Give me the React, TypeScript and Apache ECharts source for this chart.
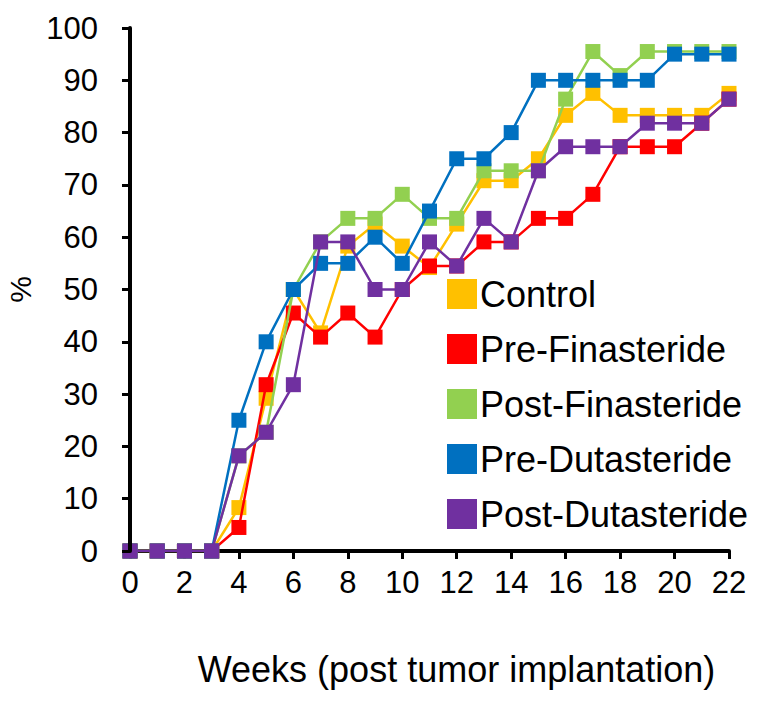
import React, { useEffect, useRef } from "react";
import * as echarts from "echarts";

const weeks = [0,1,2,3,4,5,6,7,8,9,10,11,12,13,14,15,16,17,18,19,20,21,22];
const seriesNames = ["Control","Pre-Finasteride","Post-Finasteride","Pre-Dutasteride","Post-Dutasteride"];
const colors = ["#FFC000","#FF0000","#92D050","#0070C0","#7030A0"];
const control = [0,0,0,0,8.3,29.2,50,41.7,58.3,62.5,58.3,54.2,62.5,70.8,70.8,75,83.3,87.5,83.3,83.3,83.3,83.3,87.5];
const preFinasteride = [0,0,0,0,4.5,31.8,45.5,40.9,45.5,40.9,50,54.5,54.5,59.1,59.1,63.6,63.6,68.2,77.3,77.3,77.3,81.8,86.4];
const postFinasteride = [0,0,0,0,18.2,22.7,50,59.1,63.6,63.6,68.2,63.6,63.6,72.7,72.7,72.7,86.4,95.5,90.9,95.5,95.5,95.5,95.5];
const preDutasteride = [0,0,0,0,25,40,50,55,55,60,55,65,75,75,80,90,90,90,90,90,95,95,95];
const postDutasteride = [0,0,0,0,18.2,22.7,31.8,59.1,59.1,50,50,59.1,54.5,63.6,59.1,72.7,77.3,77.3,77.3,81.8,81.8,81.8,86.4];
const allValues = [control, preFinasteride, postFinasteride, preDutasteride, postDutasteride];

const FONT = "Liberation Sans, Arial, sans-serif";

export default function App() {
  const ref = useRef<HTMLDivElement>(null);
  useEffect(() => {
    if (!ref.current) return;
    const chart = echarts.init(ref.current, undefined, { renderer: "svg" });
    chart.setOption({
      animation: false,
      backgroundColor: "#ffffff",
      textStyle: { fontFamily: FONT },
      grid: { left: 130, right: 35, top: 28, bottom: 152, containLabel: false, outerBoundsMode: "none" },
      legend: {
        orient: "vertical",
        left: 447,
        top: 276,
        itemWidth: 30,
        itemHeight: 30,
        itemGap: 19,
        icon: "rect",
        padding: 0,
        textStyle: { fontSize: 36, color: "#000", fontFamily: FONT, padding: [0, 0, 0, -2] },
        data: seriesNames,
      },
      xAxis: {
        type: "value",
        min: 0,
        max: 22,
        interval: 2,
        name: "Weeks (post tumor implantation)",
        nameLocation: "middle",
        nameGap: 100,
        nameTextStyle: { fontSize: 36, color: "#000", fontFamily: FONT, padding: [0, 0, 0, 54] },
        axisLine: { show: true, onZero: false, lineStyle: { color: "#000", width: 4 } },
        axisTick: { show: true, inside: false, length: 8, lineStyle: { color: "#000", width: 3 } },
        axisLabel: { fontSize: 31, color: "#000", margin: 16, fontFamily: FONT },
        splitLine: { show: false },
      },
      yAxis: {
        type: "value",
        min: 0,
        max: 100,
        interval: 10,
        z: 20,
        name: "%",
        nameLocation: "middle",
        nameRotate: 90,
        nameGap: 95,
        nameTextStyle: { fontSize: 30, color: "#000", fontFamily: FONT },
        axisLine: { show: true, onZero: false, lineStyle: { color: "#000", width: 4 } },
        axisTick: { show: true, inside: false, length: 8, lineStyle: { color: "#000", width: 3 } },
        axisLabel: { fontSize: 31, color: "#000", margin: 32, fontFamily: FONT },
        splitLine: { show: false },
      },
      series: seriesNames.map((name, i) => ({
        name,
        type: "line",
        data: weeks.map((w, j) => [w, allValues[i][j]]),
        symbol: "rect",
        symbolSize: 15,
        itemStyle: { color: colors[i] },
        lineStyle: { color: colors[i], width: 2.5 },
        z: 2 + i,
      })),
    });
    return () => chart.dispose();
  }, []);
  return (
    <div
      ref={ref}
      style={{ position: "fixed", left: 0, top: 0, width: 764, height: 703, background: "#fff" }}
    />
  );
}
